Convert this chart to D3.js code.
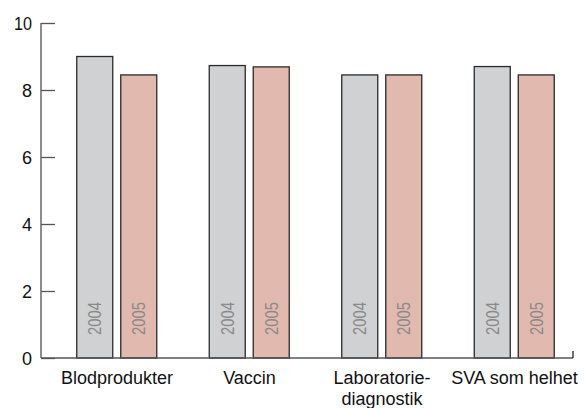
<!DOCTYPE html>
<html lang="en">
<head>
<meta charset="UTF-8">
<script src="https://d3js.org/d3.v7.min.js"></script>
<style>
    body { margin: 0; padding: 0; background: #fff; }
    svg { display: block; font-family: "Liberation Sans", Arial, sans-serif; }
</style>
</head>
<body>
<div id="chart"></div>
<script>
    // data
    var categories = ["Blodprodukter", "Vaccin", "Laboratorie-\ndiagnostik", "SVA som helhet"];
    var years = ["2004", "2005"];
    var values2004 = [9.0, 8.73, 8.45, 8.7];
    var values2005 = [8.45, 8.69, 8.45, 8.45];
    var yTicks = [0, 2, 4, 6, 8, 10];
    var colors = { "2004": "#d0d1d3", "2005": "#e2b9af" };

    var width = 585, height = 408;

    var svg = d3.select("#chart")
        .append("svg")
        .attr("width", width)
        .attr("height", height);

    var y = d3.scaleLinear()
        .domain([0, 10])
        .range([358, 23]);

    var x = d3.scaleBand()
        .domain(categories)
        .range([50.75, 580.75])
        .padding(0);

    var xInner = d3.scaleBand()
        .domain(years)
        .range([26, 106])
        .paddingInner(8 / 44);

    // Y axis: ticks pointing inward
    var yAxis = svg.append("g")
        .attr("transform", "translate(41,0)")
        .call(d3.axisRight(y).tickValues(yTicks).tickSize(14).tickFormat(d3.format("d")));
    yAxis.select(".domain").remove();
    yAxis.selectAll(".tick line").attr("stroke", "#555").attr("stroke-width", 1.3);
    yAxis.selectAll(".tick text")
        .attr("x", -9)
        .attr("dy", "0.36em")
        .attr("text-anchor", "end")
        .attr("fill", "#111")
        .style("font-size", "18px");
    yAxis.selectAll(".tick text")
        .filter(function (d) { return d === 10; })
        .attr("textLength", 18).attr("lengthAdjust", "spacingAndGlyphs");
    svg.append("line")
        .attr("x1", 41).attr("x2", 41)
        .attr("y1", y(10)).attr("y2", y(0))
        .attr("stroke", "#666").attr("stroke-width", 1.5);

    // rows per bar
    var rows = [];
    categories.forEach(function (c, i) {
        rows.push({ cat: c, year: "2004", value: values2004[i] });
        rows.push({ cat: c, year: "2005", value: values2005[i] });
    });

    var bars = svg.append("g");
    bars.selectAll("rect")
        .data(rows)
        .enter()
        .append("rect")
        .attr("x", function (d) { return x(d.cat) + xInner(d.year); })
        .attr("y", function (d) { return y(d.value); })
        .attr("width", xInner.bandwidth())
        .attr("height", function (d) { return y(0) - y(d.value); })
        .attr("fill", function (d) { return colors[d.year]; })
        .attr("stroke", "#2a2a2a")
        .attr("stroke-width", 1.3);

    bars.selectAll("text")
        .data(rows)
        .enter()
        .append("text")
        .attr("transform", function (d) {
            var cx = x(d.cat) + xInner(d.year) + xInner.bandwidth() / 2;
            return "translate(" + (cx + 6.5) + ",335) rotate(-90)";
        })
        .attr("fill", "#8a8a8a")
        .attr("textLength", 33)
        .attr("lengthAdjust", "spacingAndGlyphs")
        .style("font-size", "18px")
        .text(function (d) { return d.year; });

    // X axis line
    svg.append("line")
        .attr("x1", 41).attr("x2", 573)
        .attr("y1", y(0)).attr("y2", y(0))
        .attr("stroke", "#555").attr("stroke-width", 1.5);
    svg.append("line")
        .attr("x1", 573).attr("x2", 573)
        .attr("y1", y(0)).attr("y2", y(0) - 7)
        .attr("stroke", "#222").attr("stroke-width", 1.3);

    // category labels
    var labels = svg.append("g");
    categories.forEach(function (c) {
        var t = labels.append("text")
            .attr("x", x(c) + x.bandwidth() / 2)
            .attr("y", 384)
            .attr("text-anchor", "middle")
            .attr("fill", "#111")
            .style("font-size", "18px");
        c.split("\n").forEach(function (line, i) {
            t.append("tspan")
                .attr("x", x(c) + x.bandwidth() / 2)
                .attr("dy", i === 0 ? 0 : 21)
                .text(line);
        });
    });
</script>
</body>
</html>
